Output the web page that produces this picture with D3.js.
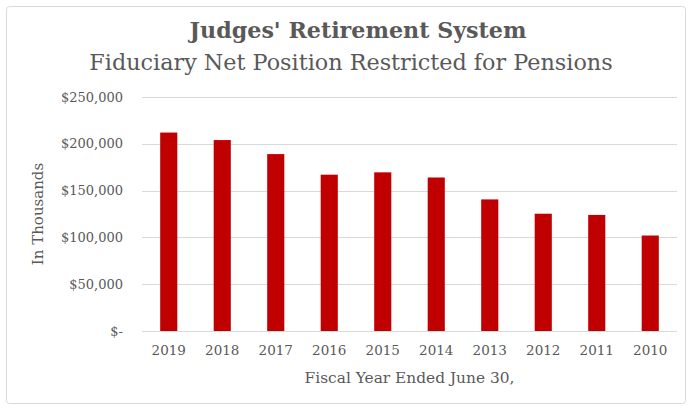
<!DOCTYPE html>
<html>
<head>
<meta charset="utf-8">
<script src="https://cdn.jsdelivr.net/npm/d3@7"></script>
<style>
  body { margin: 0; background: #fff; }
  text { font-family: "DejaVu Serif", "Liberation Serif", serif; fill: #595959; }
</style>
</head>
<body>
<div id="chart"></div>
<script>
// data
var years = ["2019", "2018", "2017", "2016", "2015", "2014", "2013", "2012", "2011", "2010"];
var netPosition = [212000, 204000, 189000, 167000, 169500, 164000, 140600, 125300, 124000, 102000];
var yTicks = [0, 50000, 100000, 150000, 200000, 250000];

var W = 692, H = 409;
var margin = {top: 97, right: 15, bottom: 78, left: 142},
    width = W - margin.left - margin.right,
    height = H - margin.top - margin.bottom;

var svg = d3.select("#chart").append("svg")
    .attr("width", W)
    .attr("height", H);

// outer chart border
svg.append("rect")
    .attr("x", 6.5).attr("y", 6.5)
    .attr("width", W - 13).attr("height", H - 12)
    .attr("rx", 3)
    .attr("fill", "#fff")
    .attr("stroke", "#d9d9d9");

var g = svg.append("g")
    .attr("transform", "translate(" + margin.left + "," + margin.top + ")");

var x = d3.scaleBand().domain(years).range([0, width]).paddingInner(0.68).paddingOuter(0.34);
var y = d3.scaleLinear().domain([0, 250000]).range([height, 0]);

var fmt = function(d) { return d === 0 ? "$-" : "$" + d3.format(",")(d); };

// gridlines
g.selectAll(".grid")
    .data(yTicks)
  .enter().append("line")
    .attr("x1", 0).attr("x2", width)
    .attr("y1", function(d) { return Math.round(y(d)) + 0.5; })
    .attr("y2", function(d) { return Math.round(y(d)) + 0.5; })
    .attr("stroke", "#d9d9d9")
    .attr("stroke-width", 1);

// y axis labels
var yAxis = g.append("g")
    .call(d3.axisLeft(y).tickValues(yTicks).tickFormat(fmt).tickSize(0).tickPadding(19));
yAxis.select(".domain").remove();
yAxis.selectAll("text").attr("font-size", 13).attr("fill", "#595959")
    .style("font-family", "DejaVu Serif");

// bars
g.selectAll(".bar")
    .data(netPosition)
  .enter().append("rect")
    .attr("x", function(d, i) { return x(years[i]); })
    .attr("y", function(d) { return y(d); })
    .attr("width", x.bandwidth())
    .attr("height", function(d) { return height - y(d); })
    .attr("fill", "#c00000");

// x axis labels
var xAxis = g.append("g")
    .attr("transform", "translate(0," + height + ")")
    .call(d3.axisBottom(x).tickSize(0).tickPadding(14));
xAxis.select(".domain").remove();
xAxis.selectAll("text").attr("font-size", 13.5).attr("fill", "#595959")
    .style("font-family", "DejaVu Serif");

// titles
svg.append("text")
    .attr("x", 358).attr("y", 38)
    .attr("text-anchor", "middle")
    .attr("font-size", 22.2)
    .attr("font-weight", "bold")
    .text("Judges' Retirement System");

svg.append("text")
    .attr("x", 351).attr("y", 70)
    .attr("text-anchor", "middle")
    .attr("font-size", 22.3)
    .text("Fiduciary Net Position Restricted for Pensions");

svg.append("text")
    .attr("x", margin.left + width / 2).attr("y", 383)
    .attr("text-anchor", "middle")
    .attr("font-size", 15.4)
    .text("Fiscal Year Ended June 30,");

svg.append("text")
    .attr("transform", "translate(43," + (margin.top + height / 2) + ") rotate(-90)")
    .attr("text-anchor", "middle")
    .attr("font-size", 15)
    .text("In Thousands");
</script>
</body>
</html>
